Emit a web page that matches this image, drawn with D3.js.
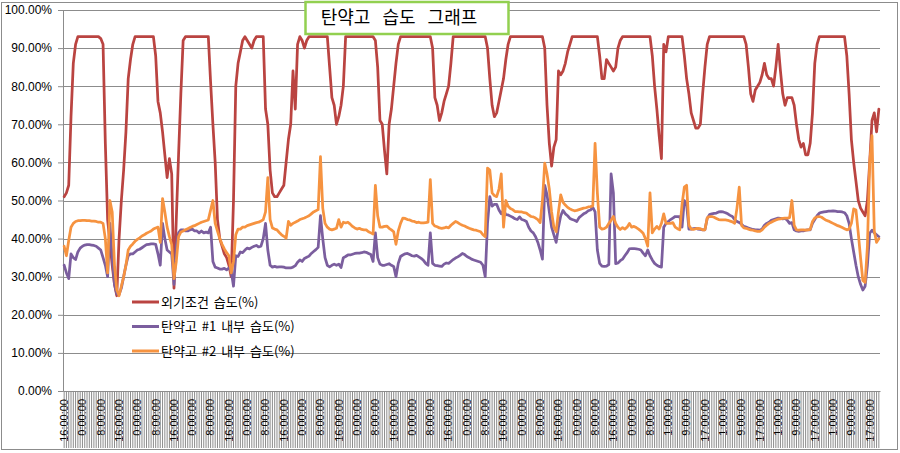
<!DOCTYPE html>
<html>
<head>
<meta charset="utf-8">
<script src="https://cdn.jsdelivr.net/npm/d3@7"></script>
<style>
    body { margin: 0; background: #fff; }
    svg text { font-family: "Liberation Sans", Arial, "Noto Sans CJK KR", sans-serif; fill: #000; }
</style>
</head>
<body>
<div id="chart"></div>
<script>
// category labels, one every 8 readings
const tickLabels = [
    "16:00:00", "0:00:00", "8:00:00", "16:00:00", "0:00:00", "8:00:00", "16:00:00", "0:00:00", "8:00:00",
    "16:00:00", "0:00:00", "8:00:00", "16:00:00", "0:00:00", "8:00:00", "16:00:00", "0:00:00", "8:00:00",
    "16:00:00", "0:00:00", "8:00:00", "16:00:00", "0:00:00", "8:00:00", "16:00:00", "0:00:00", "8:00:00",
    "16:00:00", "0:00:00", "8:00:00", "16:00:00", "0:00:00", "8:00:00", "1:00:00", "9:00:00", "17:00:00",
    "1:00:00", "9:00:00", "17:00:00", "1:00:00", "9:00:00", "17:00:00", "1:00:00", "9:00:00", "17:00:00"
];
const labelEvery = 8;

// 외기조건 습도 (%)
const outsideHumidity = [
    51, 52, 54, 72, 86, 91, 93, 93,
    93, 93, 93, 93, 93, 93, 93, 93,
    92.5, 91, 65, 45, 39, 33, 28, 25,
    40, 50, 58, 68, 82, 87, 91, 93,
    93, 93, 93, 93, 93, 93, 93, 93,
    88, 76, 73, 68, 62, 56, 61, 57,
    27, 45, 62, 78, 92, 93, 93, 93,
    93, 93, 93, 93, 93, 93, 93, 93,
    81, 70, 60, 45, 40, 38, 36, 35,
    33, 30, 50, 80, 86, 89, 92, 93,
    92, 91, 90, 92, 93, 93, 93, 93,
    74, 70, 58, 52, 51, 51, 52, 53,
    54, 60, 66, 70, 84, 74, 91, 93,
    92, 90, 92, 93, 93, 93, 93, 93,
    93, 93, 93, 93, 85, 77, 75, 70,
    72, 75, 80, 93, 93, 93, 93, 93,
    93, 93, 93, 93, 93, 93, 93, 93,
    92, 85, 71, 70, 63, 57, 70, 74,
    80, 86, 91, 93, 93, 93, 93, 93,
    93, 93, 93, 93, 93, 93, 93, 93,
    93, 90, 77, 75, 71, 73, 76, 78,
    80, 86, 93, 93, 93, 93, 93, 93,
    93, 93, 93, 93, 93, 93, 93, 93,
    93, 90, 82, 75, 72, 73, 76, 79,
    82, 87, 91, 93, 93, 93, 93, 93,
    93, 93, 93, 93, 93, 93, 93, 93,
    93, 93, 90, 75, 65, 59, 64, 66,
    84, 83, 84, 86, 89, 91, 93, 93,
    93, 93, 93, 93, 93, 93, 93, 93,
    93, 93, 88, 82, 82, 87, 86, 85,
    84, 85, 90, 92, 93, 93, 93, 93,
    93, 93, 93, 93, 93, 93, 93, 93,
    93, 88, 80, 74, 67, 61, 91, 89,
    93, 93, 93, 93, 93, 93, 93, 88,
    82, 78, 73, 71, 69, 69, 70, 78,
    85, 91, 93, 93, 93, 93, 93, 93,
    93, 93, 93, 93, 93, 93, 93, 93,
    93, 93, 91, 85, 78, 76, 79, 80,
    81, 83, 86, 83, 82, 82, 80, 85,
    91, 84, 78, 75, 77, 77, 77, 75,
    70, 66, 64, 65, 62, 62, 65, 73,
    86, 91, 93, 93, 93, 93, 93, 93,
    93, 93, 93, 93, 93, 93, 88, 78,
    66, 60, 55, 50, 48, 47, 46, 50,
    60, 71, 73, 68, 74
];

// 탄약고 #1 내부 습도 (%)
const store1Humidity = [
    33, 31, 29.5, 36, 35, 34.5, 36.5, 37.5,
    38, 38.3, 38.4, 38.4, 38.3, 38.2, 38, 37.5,
    37, 35, 33, 30, 44, 35, 28, 25.5,
    25.3, 27, 30, 33, 35.5, 36, 36, 36.5,
    37, 37.2, 37.6, 38, 38.4, 38.5, 38.6, 38.6,
    38.5, 36, 33, 44, 40, 37, 36.5, 36,
    28, 38, 41.5, 42.3, 42.3, 42, 42, 42.3,
    42.5, 42, 42, 41.5, 42, 41.5, 41.7, 41.5,
    43, 34, 32.5, 32.3, 32, 32, 32.2, 31.8,
    32.3, 31.5, 27.5, 35.5, 35.3, 36.5, 36.3, 37,
    37.5, 37.3, 37.7, 38, 38.2, 37.8, 38, 40,
    44, 37, 33, 32.5, 32.7, 32.5, 32.6, 32.6,
    32.5, 32.3, 32.3, 32.3, 32.5, 32.9, 33.8, 34.4,
    34, 34.8, 35.1, 35.4, 36.1, 36.6, 37.1, 37.7,
    46, 40, 35, 33, 32.6, 33, 33.3, 33,
    33.3, 32.4, 35, 35.3, 35.7, 35.7, 35.9, 36.1,
    36.2, 36.2, 36.3, 36.5, 36.4, 36.1, 35.8, 34,
    41.5, 35, 33.3, 33, 33, 33.2, 33.4, 33,
    32.7, 30, 33.5, 35.3, 35.7, 36, 36.1, 35.8,
    35.5, 35.4, 35.6, 35.2, 34.8, 34.3, 33.5, 33,
    41.5, 33.5, 33, 32.9, 32.8, 32.7, 33.3, 33.6,
    33.5, 34, 34.5, 34.9, 35.2, 35.6, 36.1, 35.8,
    35.3, 35, 34.6, 34.4, 34.2, 34, 33.8, 33,
    30, 44, 51, 48.5, 49, 49, 47.5, 46.5,
    47.5, 46.3, 46.2, 45.9, 45.6, 45.2, 45, 45.7,
    45, 44.8, 44.5, 43, 42, 41.5, 40.5, 39,
    37, 34.6, 54, 51.5, 47, 43, 41, 39,
    43, 46, 47.4, 46.5, 46, 45.3, 45, 44.8,
    44.5, 45.5, 46, 46.5, 46.8, 47.3, 47.5, 48.2,
    47, 37, 33.5, 32.8, 32.7, 32.8, 33.2, 57,
    52, 33.4, 33.6, 34.2, 34.6, 35.5, 36.3, 37.3,
    37.4, 37.4, 37.3, 37.2, 37, 36.2, 35.5, 37,
    35.5, 34.4, 33.5, 33, 32.7, 32.5, 43, 44,
    44.5, 45, 45.4, 45.8, 45.8, 45.8, 43, 50,
    49, 42.5, 42.5, 42.6, 42.7, 42.5, 42.4, 42.3,
    42.3, 45.3, 46.3, 46.5, 46.6, 46.7, 47, 47.1,
    47, 46.8, 46.5, 46.1, 45.8, 45, 44.5, 44.2,
    43.8, 43.2, 43, 42.8, 42.6, 42.4, 42.3, 42.3,
    42.2, 42.5, 43.5, 44, 44.3, 44.8, 45, 45.2,
    45.4, 45.3, 45.2, 45.3, 44.8, 44, 44.2, 42.3,
    42, 41.9, 42, 42, 42.2, 42.3, 42.3, 44,
    45, 46, 46.7, 46.9, 47, 47.1, 47.2, 47.2,
    47.3, 47.2, 47.1, 47.1, 47, 46.8, 46, 44,
    40, 36.5, 33, 30, 28, 26.5, 27.5, 33,
    41.4, 42.2, 41.5, 41, 40.5
];

// 탄약고 #2 내부 습도 (%)
const store2Humidity = [
    38, 35.5, 39.5, 43, 44, 44.5, 44.7, 44.7,
    44.8, 44.8, 44.7, 44.7, 44.6, 44.6, 44.5, 44.3,
    44.3, 44, 40, 31, 50, 47, 33, 26.5,
    25, 27.5, 30, 33, 37, 38, 38.6, 39.3,
    39.8, 40.2, 40.7, 41, 41.4, 41.7, 42, 42.5,
    42.8, 43, 39, 50.5, 47, 43, 40.5, 38.4,
    29.5, 34, 40.5, 41.7, 42, 42.3, 42.6, 42.9,
    43.2, 43.4, 43.7, 44, 44.3, 44.5, 44.7, 44.9,
    47.5, 50, 44, 42, 40, 38.5, 37.3, 36.3,
    35.5, 31, 34, 41, 42.5, 42.5, 43, 43,
    43.4, 43.6, 43.8, 44, 44.2, 44.3, 44.6, 45,
    47, 56, 45, 42.8, 42.5, 42.3, 41.6, 41,
    40.6, 40.1, 44.5, 43.5, 44, 44.3, 44.6, 45,
    45.2, 45.4, 45.7, 46, 46.5, 47, 47.3, 47.6,
    61.5, 48, 44, 43, 42.5, 42.3, 42.5, 42.7,
    45, 43, 44.3, 44.1, 44.3, 43.8, 43.2, 42.8,
    42.5, 42.7, 42.4, 42.3, 42.3, 41.8, 41.5, 41.2,
    54, 46, 43, 43, 43.2, 43.3, 42.7, 42.3,
    41.8, 38.5, 42, 44, 45.4, 45.3, 45, 44.9,
    44.6, 44.5, 44.2, 44.3, 44.1, 44.1, 44.2, 44.3,
    55.5, 44, 43.3, 43.1, 42.8, 42.7, 42.8, 43,
    42.8, 43.5, 44, 44.5, 44.2, 43.8, 43.5, 43.3,
    43, 42.7, 42.5, 42.3, 42.2, 42, 41.8, 41,
    40.5, 58.5, 58, 52, 51.3, 51, 53, 57,
    43, 50, 48.5, 47.9, 47.6, 47.1, 47.1, 47,
    47, 46.8, 46.7, 46.2, 45.8, 45.7, 45.4, 45,
    44.2, 50, 59.8, 57, 53, 47, 43, 41.8,
    47, 51.5, 49.5, 48.8, 48.2, 47.8, 47.5, 47.3,
    47.4, 47.6, 47.8, 48, 48.1, 48.3, 48.4, 48.6,
    65, 52, 43, 42.5, 42.6, 43, 44, 44.8,
    45.8, 44, 43, 42.4, 42.9, 42.5, 43, 44,
    43, 43.2, 42.9, 42.5, 42, 41.4, 40, 38,
    52, 41.5, 42.5, 43.2, 42.5, 44, 46.5, 44,
    44, 44, 44.2, 43, 42.6, 42.3, 49, 53.5,
    54, 43.5, 42.5, 42.4, 42.6, 42.7, 42.6, 42.3,
    42.3, 45.5, 45.8, 45.8, 45.6, 45.3, 45, 44.9,
    44.9, 44.9, 44.8, 44.6, 44.4, 44, 48, 53.5,
    43.5, 42.8, 42.7, 42.5, 42.3, 42.2, 42, 41.9,
    41.9, 42.3, 43, 43.5, 44, 44.3, 44.6, 44.9,
    45.1, 45.2, 45.3, 45.4, 45.4, 45.5, 50, 43.5,
    42.3, 42.2, 42.3, 42.3, 42.2, 42.3, 42.4, 44.5,
    45.4, 45.7, 45.8, 45.6, 45.2, 44.8, 44.6, 44.3,
    44, 43.7, 43.4, 43.2, 42.9, 42.6, 42.3, 42.5,
    44, 47.8, 47.5, 41.5, 35, 29, 28.5, 38,
    60, 67, 42, 39, 40
];

const seriesNames = ["외기조건 습도(%)", "탄약고 #1 내부 습도(%)", "탄약고 #2 내부 습도(%)"];
const seriesColors = ["#BA4441", "#7B5E9E", "#F69340"];
const yTicks = [0, 10, 20, 30, 40, 50, 60, 70, 80, 90, 100];
const titleText = "탄약고 습도 그래프";

const series = [outsideHumidity, store1Humidity, store2Humidity];

const dimensions = {
    width: 900,
    height: 453,
    margins: { top: 10, right: 20, bottom: 62, left: 63 }
};
dimensions.bordWidth = dimensions.width - dimensions.margins.left - dimensions.margins.right;
dimensions.bordHeight = dimensions.height - dimensions.margins.top - dimensions.margins.bottom;

const svg = d3.select("#chart")
    .append("svg")
    .attr("width", dimensions.width)
    .attr("height", dimensions.height);

// chart border
svg.append("rect")
    .attr("x", 1.5).attr("y", 2.5)
    .attr("width", 896).attr("height", 447)
    .attr("fill", "#fff")
    .attr("stroke", "#8c8c8c");

const borders = svg.append("g")
    .attr("transform", `translate(${dimensions.margins.left}, ${dimensions.margins.top})`);

// scales
const xScale = d3.scaleBand()
    .domain(d3.range(outsideHumidity.length))
    .range([0, dimensions.bordWidth]);
const xPos = i => xScale(i) + xScale.bandwidth() / 2;

const yScale = d3.scaleLinear()
    .domain([0, 100])
    .range([dimensions.bordHeight, 0]);

// gridlines
borders.append("g")
    .selectAll("line")
    .data(yTicks.filter(d => d > 0))
    .join("line")
    .attr("x1", 0)
    .attr("x2", dimensions.bordWidth)
    .attr("y1", d => Math.round(yScale(d)) + 0.5)
    .attr("y2", d => Math.round(yScale(d)) + 0.5)
    .attr("stroke", "#8c8c8c")
    .attr("stroke-width", 1);

// x axis: one tick per reading, label every 8
const xAxisGen = d3.axisBottom(xScale)
    .tickValues(xScale.domain())
    .tickSizeInner(57)
    .tickSizeOuter(0)
    .tickFormat(i => i % labelEvery === 0 ? tickLabels[i / labelEvery] : "");

const xAxis = borders.append("g")
    .attr("transform", `translate(0, ${dimensions.bordHeight})`)
    .call(xAxisGen);

xAxis.select(".domain").attr("stroke", "#8c8c8c");
xAxis.selectAll(".tick line").attr("stroke", "#8c8c8c").attr("stroke-width", 1);
xAxis.selectAll(".tick text")
    .attr("transform", "rotate(-90)")
    .attr("text-anchor", "end")
    .attr("x", -8)
    .attr("y", 0)
    .attr("dy", "0.35em")
    .style("font-size", "11px");

// y axis
const yAxisGen = d3.axisLeft(yScale)
    .tickValues(yTicks)
    .tickSize(5)
    .tickPadding(6)
    .tickFormat(d => d.toFixed(2) + "%");

const yAxis = borders.append("g").call(yAxisGen);
yAxis.select(".domain").attr("stroke", "#8c8c8c");
yAxis.selectAll(".tick line").attr("stroke", "#8c8c8c");
yAxis.selectAll(".tick text").style("font-size", "12px");

// lines
const lineGen = d3.line()
    .x((d, i) => xPos(i))
    .y(d => yScale(d));

borders.append("g")
    .selectAll("path")
    .data(series)
    .join("path")
    .attr("d", d => lineGen(d))
    .attr("fill", "none")
    .attr("stroke", (d, i) => seriesColors[i])
    .attr("stroke-width", 2.75)
    .attr("stroke-linejoin", "round")
    .attr("stroke-linecap", "round");

// legend
const legend = svg.append("g")
    .attr("transform", "translate(132, 302)");

const legendItems = legend.selectAll("g")
    .data(seriesNames)
    .join("g")
    .attr("transform", (d, i) => `translate(0, ${i * 24.5})`);

legendItems.append("line")
    .attr("x1", 0).attr("x2", 27)
    .attr("y1", 0).attr("y2", 0)
    .attr("stroke", (d, i) => seriesColors[i])
    .attr("stroke-width", 3);

legendItems.append("text")
    .attr("x", 29)
    .attr("y", 0)
    .attr("dy", "0.36em")
    .style("font-family", "'Noto Sans CJK KR', sans-serif")
    .style("font-size", "13px")
    .style("word-spacing", "2px")
    .text(d => d);

// title box
svg.append("rect")
    .attr("x", 305.5).attr("y", 2)
    .attr("width", 203).attr("height", 32)
    .attr("fill", "#fff")
    .attr("stroke", "#92D050")
    .attr("stroke-width", 2.5);

svg.append("text")
    .attr("x", 399)
    .attr("y", 18)
    .attr("dy", "0.35em")
    .attr("text-anchor", "middle")
    .style("font-family", "'Noto Sans CJK KR', sans-serif")
    .style("font-size", "18px")
    .style("word-spacing", "8px")
    .text(titleText);
</script>
</body>
</html>
